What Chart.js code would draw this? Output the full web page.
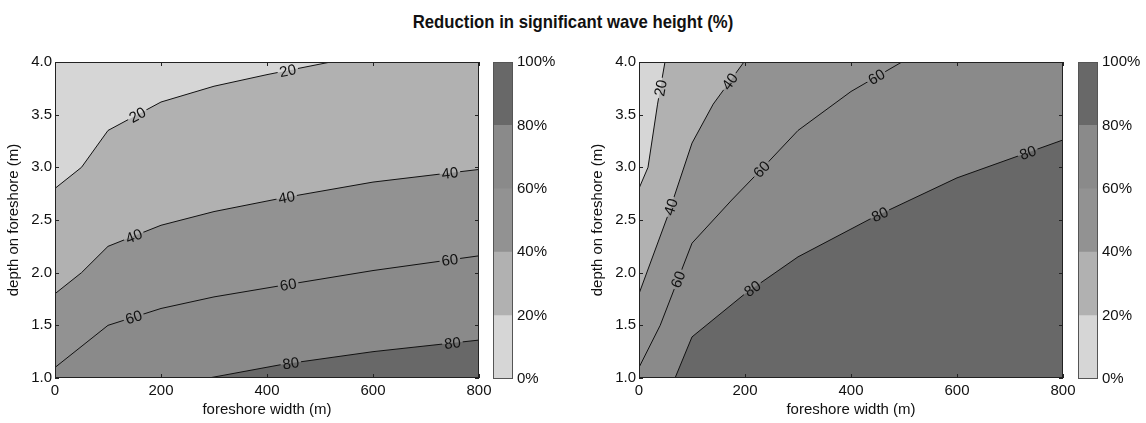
<!DOCTYPE html>
<html>
<head>
<meta charset="utf-8">
<script src="https://cdn.jsdelivr.net/npm/chart.js@4.4.1/dist/chart.umd.min.js"></script>
<style>
  body { margin: 0; background: #fff; width: 1146px; height: 423px; overflow: hidden; position: relative; }
  #title { position: absolute; left: 0; top: 11px; width: 1146px; text-align: center; transform: scaleX(0.88);
           font: bold 19px "Liberation Sans", Arial, sans-serif; color: #111; }
  canvas { position: absolute; top: 40px; }
</style>
</head>
<body>
<div id="title">Reduction in significant wave height (%)</div>
<canvas id="leftPlot" width="496" height="381" style="left:0px"></canvas>
<canvas id="leftBar" width="80" height="381" style="left:490px"></canvas>
<canvas id="rightPlot" width="496" height="381" style="left:584px"></canvas>
<canvas id="rightBar" width="70" height="381" style="left:1075px"></canvas>
<script>
// contour levels and shading (0-20, 20-40, 40-60, 60-80, 80-100)
const levels = [20, 40, 60, 80];
const levelColors = ['#d6d6d6', '#b1b1b1', '#929292', '#8a8a8a', '#686868'];
const colorbarTicks = [0, 20, 40, 60, 80, 100];

// left panel contours: [foreshore width (m), depth (m)]
const left20 = [[0, 2.8], [50, 3.0], [100, 3.35], [200, 3.62], [300, 3.77], [400, 3.88], [520, 4.0]];
const left40 = [[0, 1.8], [50, 2.0], [100, 2.25], [200, 2.45], [300, 2.58], [430, 2.71], [600, 2.86], [800, 2.98]];
const left60 = [[0, 1.1], [100, 1.5], [200, 1.66], [300, 1.77], [430, 1.88], [600, 2.02], [800, 2.16]];
const left80 = [[290, 1.0], [430, 1.13], [600, 1.25], [800, 1.36]];

// right panel contours
const right20 = [[0, 2.8], [17, 3.0], [35, 3.6], [49, 4.0]];
const right40 = [[0, 1.8], [55, 2.55], [100, 3.23], [140, 3.6], [198, 4.0]];
const right60 = [[0, 1.1], [40, 1.5], [100, 2.28], [175, 2.69], [225, 2.95], [300, 3.35], [400, 3.72], [496, 4.0]];
const right80 = [[68, 1.0], [100, 1.39], [200, 1.8], [300, 2.15], [440, 2.52], [600, 2.9], [800, 3.26]];

// inline contour labels: [level, near width, near depth]
const leftLabels = [[20, 150, 3.55], [20, 440, 3.9], [40, 150, 2.33], [40, 438, 2.69], [40, 745, 2.95],
                    [60, 150, 1.55], [60, 440, 1.88], [60, 745, 2.12], [80, 445, 1.14], [80, 750, 1.33]];
const rightLabels = [[20, 44, 3.75], [40, 62, 2.62], [40, 175, 3.8], [60, 77, 1.93], [60, 234, 2.97],
                     [60, 449, 3.85], [80, 215, 1.84], [80, 455, 2.55], [80, 735, 3.12]];

const xTicks = [0, 200, 400, 600, 800];
const yTicks = [1.0, 1.5, 2.0, 2.5, 3.0, 3.5, 4.0];

const FONT = '"Liberation Sans", Arial, sans-serif';

function toPts(arr) { return arr.map(p => ({ x: p[0], y: p[1] })); }

// polyline in pixels, nearest point + local angle
function snapLabel(chart, pts, x, y) {
  const xs = chart.scales.x, ys = chart.scales.y;
  const px = pts.map(p => [xs.getPixelForValue(p.x), ys.getPixelForValue(p.y)]);
  const ax = xs.getPixelForValue(x), ay = ys.getPixelForValue(y);
  let best = null;
  for (let i = 0; i < px.length - 1; i++) {
    const [x1, y1] = px[i], [x2, y2] = px[i + 1];
    const dx = x2 - x1, dy = y2 - y1;
    let t = ((ax - x1) * dx + (ay - y1) * dy) / (dx * dx + dy * dy);
    t = Math.max(0, Math.min(1, t));
    const cx = x1 + t * dx, cy = y1 + t * dy;
    const d = (cx - ax) ** 2 + (cy - ay) ** 2;
    if (!best || d < best.d) {
      let a = Math.atan2(dy, dx);
      if (a > Math.PI / 2) a -= Math.PI;
      if (a < -Math.PI / 2) a += Math.PI;
      best = { d, cx, cy, a };
    }
  }
  return best;
}

const contourPlugin = {
  id: 'contourDecor',
  beforeDraw(chart) {
    const { ctx, chartArea: a } = chart;
    ctx.save();
    ctx.fillStyle = levelColors[0];
    ctx.fillRect(a.left, a.top, a.right - a.left, a.bottom - a.top);
    ctx.restore();
  },
  beforeDatasetDraw(chart, args) {
    const ds = chart.data.datasets[args.index];
    if (!ds.labelsAt) return;
    const ctx = chart.ctx;
    ctx.save();
    ctx.font = '15px ' + FONT;
    ctx.beginPath();
    ctx.rect(0, 0, chart.width, chart.height);
    ds.labelsAt.forEach(l => {
      const s = snapLabel(chart, ds.data, l[1], l[2]);
      const w = ctx.measureText(String(l[0])).width / 2 + 2, h = 6;
      const c = Math.cos(s.a), n = Math.sin(s.a);
      const corners = [[-w, -h], [w, -h], [w, h], [-w, h]].map(([u, v]) => [s.cx + u * c - v * n, s.cy + u * n + v * c]);
      ctx.moveTo(corners[0][0], corners[0][1]);
      corners.slice(1).forEach(p => ctx.lineTo(p[0], p[1]));
      ctx.closePath();
    });
    ctx.clip('evenodd');
  },
  afterDatasetDraw(chart, args) {
    if (chart.data.datasets[args.index].labelsAt) chart.ctx.restore();
  },
  afterDatasetsDraw(chart) {
    const ctx = chart.ctx;
    chart.data.datasets.forEach(ds => {
      if (!ds.labelsAt) return;
      ds.labelsAt.forEach(l => {
        const s = snapLabel(chart, ds.data, l[1], l[2]);
        ctx.save();
        ctx.translate(s.cx, s.cy);
        ctx.rotate(s.a);
        ctx.font = '15px ' + FONT;
        ctx.fillStyle = '#111';
        ctx.textAlign = 'center';
        ctx.textBaseline = 'middle';
        ctx.fillText(String(l[0]), 0, 1);
        ctx.restore();
      });
    });
  },
  afterDraw(chart) {
    const { ctx, chartArea: a, scales } = chart;
    ctx.save();
    ctx.strokeStyle = '#222';
    ctx.lineWidth = 1;
    ctx.strokeRect(a.left + 0.5, a.top + 0.5, a.right - a.left - 1, a.bottom - a.top - 1);
    ctx.beginPath();
    xTicks.forEach(v => {
      const p = Math.round(scales.x.getPixelForValue(v)) + 0.5;
      ctx.moveTo(p, a.bottom); ctx.lineTo(p, a.bottom - 4);
      ctx.moveTo(p, a.top); ctx.lineTo(p, a.top + 4);
    });
    yTicks.forEach(v => {
      const p = Math.round(scales.y.getPixelForValue(v)) + 0.5;
      ctx.moveTo(a.left, p); ctx.lineTo(a.left + 4, p);
      ctx.moveTo(a.right, p); ctx.lineTo(a.right - 4, p);
    });
    ctx.stroke();
    ctx.restore();
  }
};

function makePanel(id, contours, labels) {
  const fills = [];
  const lines = [];
  contours.forEach((c, i) => {
    const pts = toPts(c);
    const area = pts.slice();
    const last = area[area.length - 1];
    if (last.y >= 4 && last.x < 800) area.push({ x: 800, y: 4 });
    fills.unshift({
      data: area, fill: 'start', backgroundColor: levelColors[i + 1],
      borderWidth: 0, pointRadius: 0
    });
    lines.push({
      data: pts, fill: false, borderColor: '#111', borderWidth: 1, pointRadius: 0,
      labelsAt: labels.filter(l => l[0] === levels[i])
    });
  });
  new Chart(document.getElementById(id), {
    type: 'line',
    data: { datasets: fills.concat(lines) },
    options: {
      responsive: false,
      animation: false,
      layout: { padding: { top: 22, right: 17, left: 0, bottom: 0 } },
      plugins: {
        legend: { display: false },
        tooltip: { enabled: false },
        filler: { drawTime: 'beforeDatasetsDraw' }
      },
      elements: { line: { tension: 0 } },
      scales: {
        x: {
          type: 'linear', min: 0, max: 800,
          afterFit: s => { s.height = 43; s.paddingLeft = 0; s.paddingRight = 0; },
          afterBuildTicks: s => { s.ticks = xTicks.map(v => ({ value: v })); },
          grid: { display: false, drawTicks: false }, border: { display: false },
          ticks: { color: '#111', font: { family: FONT, size: 15 }, padding: 4, maxRotation: 0 },
          title: { display: true, text: 'foreshore width (m)', color: '#111',
                   font: { family: FONT, size: 15 }, padding: { top: 0, bottom: 2 } }
        },
        y: {
          type: 'linear', min: 1, max: 4,
          afterFit: s => { s.width = 55; s.paddingTop = 0; s.paddingBottom = 0; },
          afterBuildTicks: s => { s.ticks = yTicks.map(v => ({ value: v })); },
          grid: { display: false, drawTicks: false }, border: { display: false },
          ticks: { color: '#111', font: { family: FONT, size: 15 }, padding: 3,
                   callback: v => Number(v).toFixed(1) },
          title: { display: true, text: 'depth on foreshore (m)', color: '#111',
                   font: { family: FONT, size: 15 }, padding: { top: 5, bottom: 0 } }
        }
      }
    },
    plugins: [contourPlugin]
  });
}

const barFrame = {
  id: 'barFrame',
  afterDraw(chart) {
    const { ctx, chartArea: a } = chart;
    ctx.save();
    ctx.strokeStyle = '#555';
    ctx.strokeRect(a.left + 0.5, a.top + 0.5, a.right - a.left - 1, a.bottom - a.top - 1);
    ctx.restore();
  }
};

function makeColorbar(id) {
  const cv = document.getElementById(id);
  new Chart(cv, {
    type: 'bar',
    data: {
      labels: [''],
      datasets: levelColors.map((col, i) => ({
        data: [colorbarTicks[i + 1] - colorbarTicks[i]], backgroundColor: col,
        borderWidth: 0, barPercentage: 1, categoryPercentage: 1
      }))
    },
    options: {
      responsive: false,
      animation: false,
      layout: { padding: { top: 22, left: 3, right: 0, bottom: 42 } },
      plugins: { legend: { display: false }, tooltip: { enabled: false } },
      scales: {
        x: { display: false, stacked: true },
        y: {
          stacked: true, position: 'right', min: 0, max: 100,
          afterFit: s => { s.width = cv.width - 23; s.paddingTop = 0; s.paddingBottom = 0; },
          afterBuildTicks: s => { s.ticks = colorbarTicks.map(v => ({ value: v })); },
          grid: { display: false, drawTicks: false }, border: { display: false },
          ticks: { color: '#111', font: { family: FONT, size: 15 }, padding: 4, callback: v => v + '%' }
        }
      }
    },
    plugins: [barFrame]
  });
}

makePanel('leftPlot', [left20, left40, left60, left80], leftLabels);
makePanel('rightPlot', [right20, right40, right60, right80], rightLabels);
makeColorbar('leftBar');
makeColorbar('rightBar');
</script>
</body>
</html>
